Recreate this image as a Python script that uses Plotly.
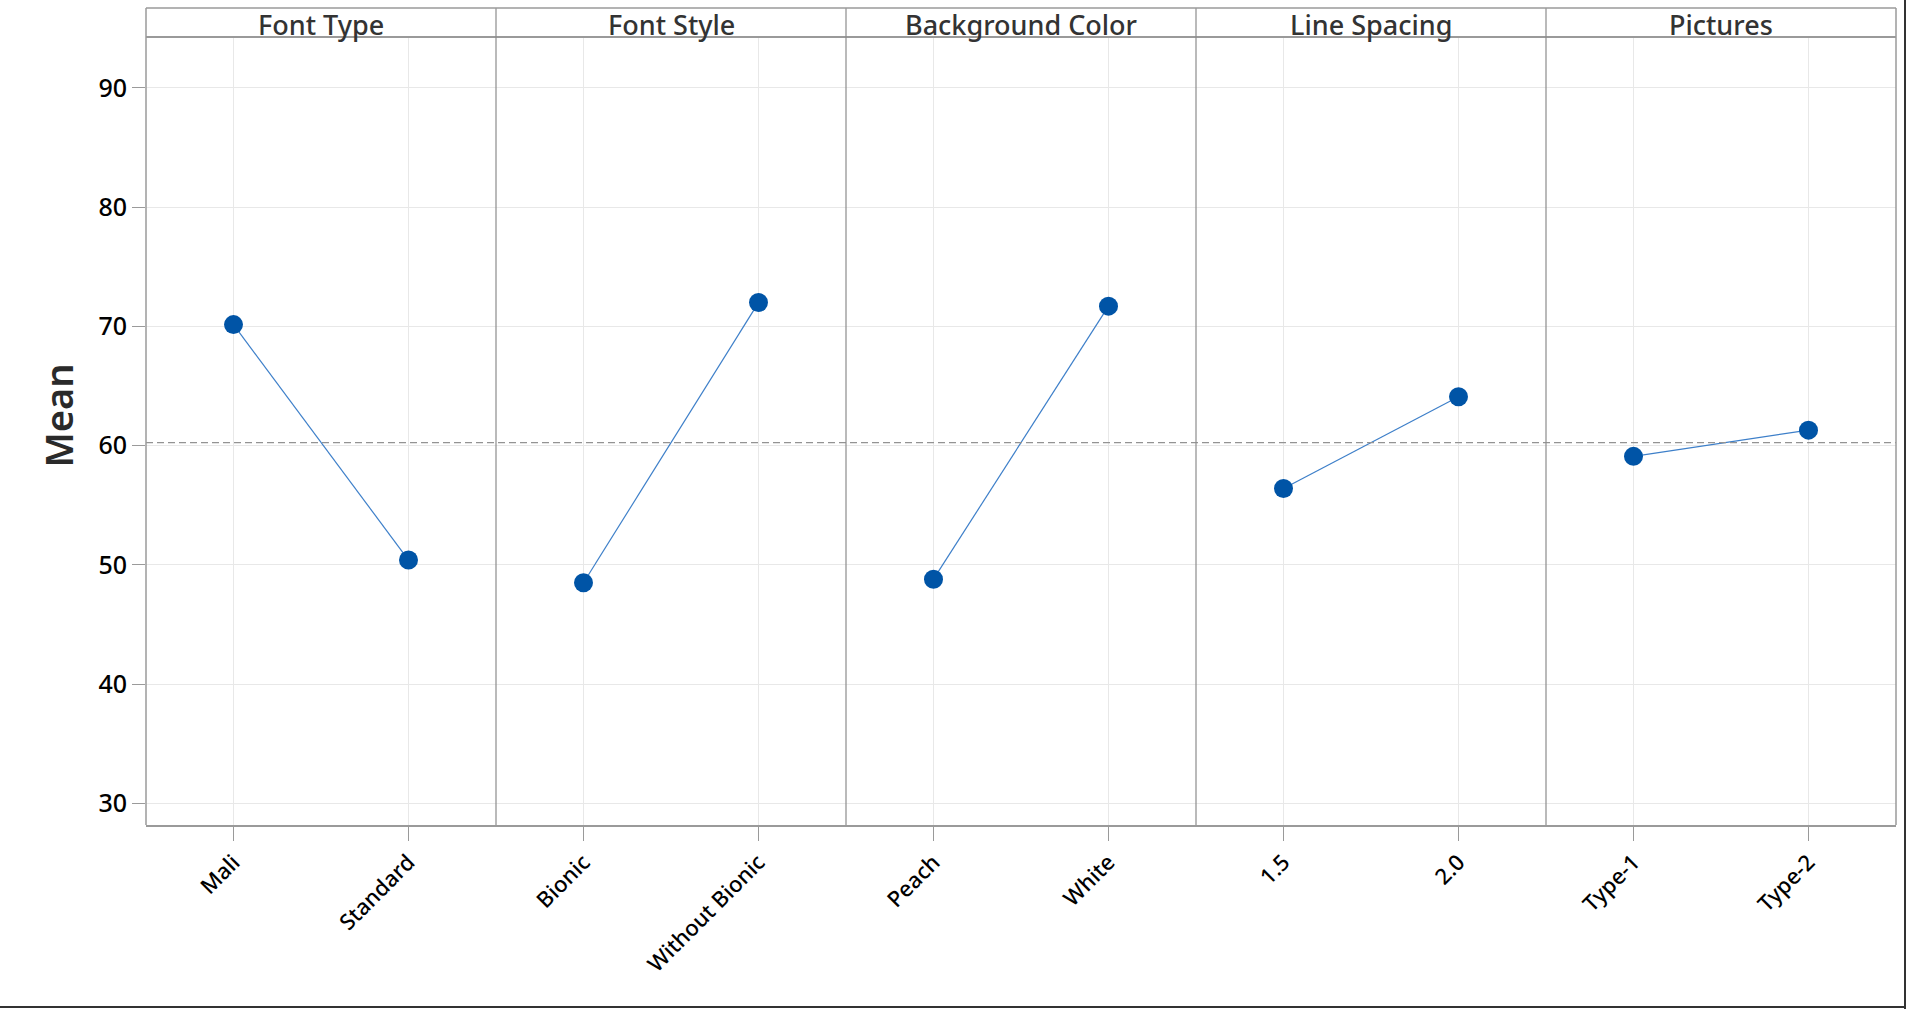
import plotly.graph_objects as go
from plotly.subplots import make_subplots

# ---- data ----
factors = ["Font Type", "Font Style", "Background Color", "Line Spacing", "Pictures"]
levels_font_type = ["Mali", "Standard"]
levels_font_style = ["Bionic", "Without Bionic"]
levels_background = ["Peach", "White"]
levels_spacing = ["1.5", "2.0"]
levels_pictures = ["Type-1", "Type-2"]
means_font_type = [70.15, 50.4]
means_font_style = [48.5, 72.0]
means_background = [48.8, 71.7]
means_spacing = [56.4, 64.1]
means_pictures = [59.1, 61.3]
grand_mean = 60.25
y_ticks = [30, 40, 50, 60, 70, 80, 90]

levels = [levels_font_type, levels_font_style, levels_background, levels_spacing, levels_pictures]
means = [means_font_type, means_font_style, means_background, means_spacing, means_pictures]

FONT = "Noto Sans"
AXIS_COLOR = "#9a9a9a"
DIV_COLOR = "#8c8c8c"
GRID_COLOR = "#e8e8e8"
MARKER_COLOR = "#0054a6"
LINE_COLOR = "#3d7fc9"

W, H = 1910, 1009
L, R, T, B = 146, 14, 38, 184
plot_h = H - T - B
pw = W - L - R

fig = make_subplots(rows=1, cols=5, shared_yaxes=True, horizontal_spacing=0)

for i, (lv, mv) in enumerate(zip(levels, means)):
    fig.add_trace(
        go.Scatter(
            x=list(range(len(lv))), y=mv, mode="lines+markers",
            line=dict(color=LINE_COLOR, width=1.2),
            marker=dict(color=MARKER_COLOR, size=19),
            showlegend=False, hoverinfo="x+y",
        ),
        row=1, col=i + 1,
    )
    fig.update_xaxes(
        row=1, col=i + 1,
        range=[-0.5, 1.5], tickvals=list(range(len(lv))), ticktext=lv,
        tickangle=-45, ticks="outside", ticklen=14, tickcolor=AXIS_COLOR,
        tickfont=dict(family=FONT, size=22, color="#000000", weight=500),
        showgrid=True, gridcolor=GRID_COLOR, gridwidth=1.3,
        showline=True, mirror=True, linecolor=AXIS_COLOR, linewidth=1.5,
        zeroline=False,
    )
    fig.update_yaxes(
        row=1, col=i + 1,
        range=[28.18, 94.19], tickvals=y_ticks,
        showgrid=True, gridcolor=GRID_COLOR, gridwidth=1.3,
        showline=False, zeroline=False,
        ticks="outside" if i == 0 else "", ticklen=13, tickcolor=AXIS_COLOR,
        showticklabels=(i == 0),
        tickfont=dict(family=FONT, size=25, color="#000000", weight=500),
    )

# grand mean reference line across all panels
fig.add_shape(type="line", xref="paper", yref="y", x0=0, x1=1,
              y0=grand_mean, y1=grand_mean,
              line=dict(color="#939393", width=1.3, dash="7px,4px"))

# outer vertical borders and panel dividers (through strip)
strip_h = 30 / plot_h
for k in range(6):
    fig.add_shape(type="line", xref="paper", yref="paper",
                  x0=k / 5, x1=k / 5, y0=0, y1=1 + strip_h,
                  line=dict(color=AXIS_COLOR if k in (0, 5) else DIV_COLOR,
                            width=1.5 if k in (0, 5) else 1.2))

# strip headers
fig.add_shape(type="line", xref="paper", yref="paper", x0=0, x1=1,
              y0=1 + strip_h, y1=1 + strip_h,
              line=dict(color=AXIS_COLOR, width=1.5))
for i, name in enumerate(factors):
    fig.add_annotation(xref="paper", yref="paper", x=(i + 0.5) / 5,
                       y=1 + 13 / plot_h, text=name, showarrow=False,
                       xanchor="center", yanchor="middle",
                       font=dict(family=FONT, size=27, color="#333333", weight=500))

# y-axis title
fig.add_annotation(xref="paper", yref="paper", x=(57 - L) / pw,
                   y=(H - B - 415.5) / plot_h, text="Mean", textangle=-90,
                   showarrow=False, xanchor="center", yanchor="middle",
                   font=dict(family=FONT, size=38, color="#2a2a2a", weight=600))

# screenshot frame (right and bottom edges)
fig.add_shape(type="line", xref="paper", yref="paper",
              x0=(1905 - L) / pw, x1=(1905 - L) / pw,
              y0=(H - B - 0) / plot_h, y1=(H - B - 1009) / plot_h,
              line=dict(color="#333333", width=2))
fig.add_shape(type="line", xref="paper", yref="paper",
              x0=(0 - L) / pw, x1=(1905 - L) / pw,
              y0=(H - B - 1007) / plot_h, y1=(H - B - 1007) / plot_h,
              line=dict(color="#333333", width=2))

fig.update_layout(
    width=W, height=H,
    margin=dict(l=L, r=R, t=T, b=B),
    paper_bgcolor="white", plot_bgcolor="white",
    font=dict(family=FONT),
    showlegend=False,
)

fig.write_html("out.html")
